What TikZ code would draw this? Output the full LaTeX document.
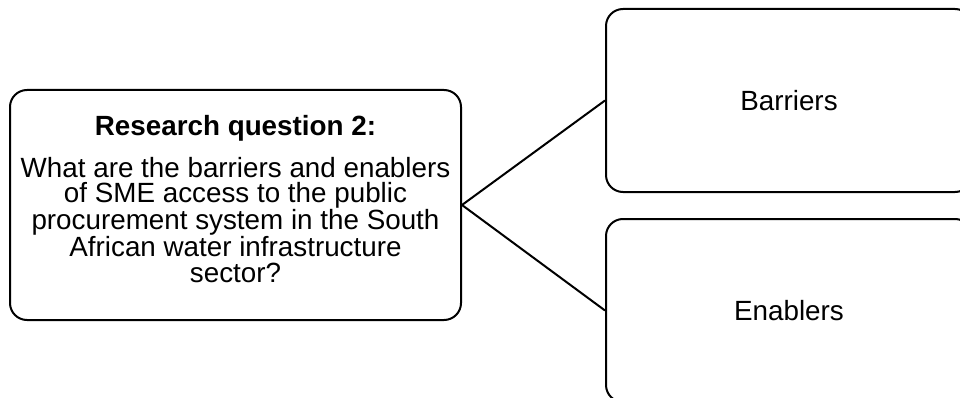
\documentclass[tikz,border=0pt]{standalone}
\usepackage{fontspec}
\setmainfont{Liberation Sans}
\begin{document}
\begin{tikzpicture}[x=1pt, y=-1pt,
  box/.style={draw=black, line width=2pt, rounded corners=17pt, inner sep=0pt,
              align=center, font=\fontsize{27.8}{25.5}\selectfont},
  link/.style={draw=black, line width=2pt}]
  % canvas (the right-hand boxes run off the edge)
  \clip (0,0) rectangle (960,398);
  \fill[white] (0,0) rectangle (960,398);

  % research question
  \node[box, minimum width=451pt, minimum height=230pt, text depth=12pt]
    (rq) at (235.5,205)
    {\textbf{Research question 2:}\\[14.5pt]
     What are the barriers and enablers\\
     of SME access to the public\\
     procurement system in the South\\
     African water infrastructure\\
     sector?};

  % outcomes
  \node[box, minimum width=366pt, minimum height=183pt] (bar) at (789,100.5) {Barriers};
  \node[box, minimum width=366pt, minimum height=183pt] (ena) at (789,310.5) {Enablers};

  % branches
  \draw[link] (bar.west) -- (rq.east) -- (ena.west);
\end{tikzpicture}
\end{document}
